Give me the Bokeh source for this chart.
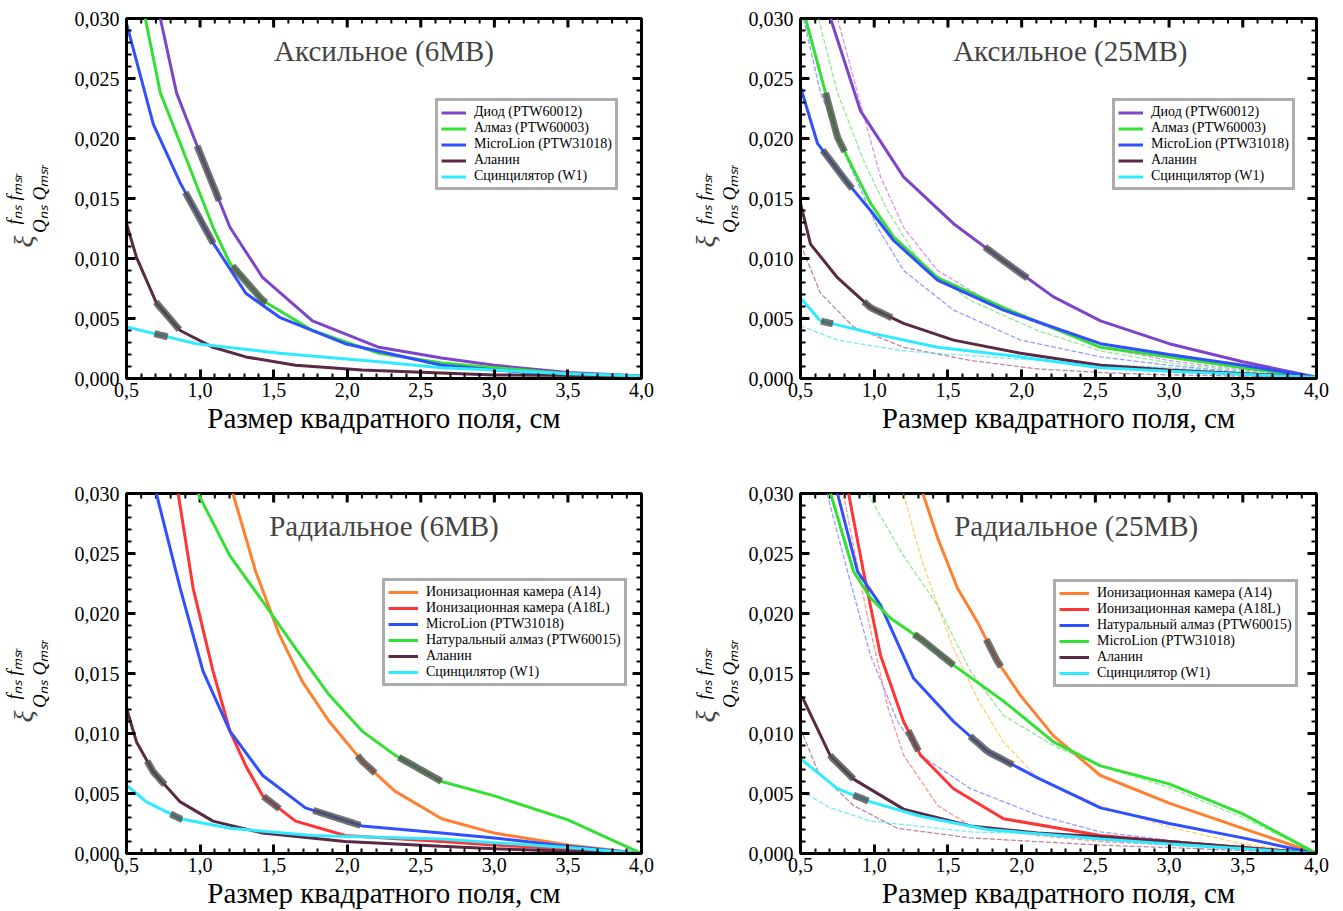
import numpy as np
from bokeh.plotting import figure
from bokeh.layouts import gridplot
from bokeh.models import (FixedTicker, CustomJSTickFormatter, Range1d,
                          Legend, LegendItem, Label, Title)
from bokeh.embed import file_html
from bokeh.resources import INLINE

# ---------------- data ----------------
x_ticks = [0.5, 1.0, 1.5, 2.0, 2.5, 3.0, 3.5, 4.0]
x_minor = [round(0.5 + 0.1 * i, 2) for i in range(36)]
y_ticks = [0.0, 0.005, 0.010, 0.015, 0.020, 0.025, 0.030]
y_minor = [round(0.001 * i, 4) for i in range(31)]
x_label = "Размер квадратного поля, см"
y_label = "fₙₛ fₘₛᵣ\nQₙₛ Qₘₛᵣ"
y_symbol = "ξ"
titles = ["Аксильное (6МВ)", "Аксильное (25МВ)", "Радиальное (6МВ)", "Радиальное (25МВ)"]

# Top-left: axial 6 MV
tl_names = ["Диод (PTW60012)", "Алмаз (PTW60003)", "MicroLion (PTW31018)", "Аланин", "Сцинцилятор (W1)"]
tl_diode_x = [0.73, 0.84, 0.973, 1.203, 1.426, 1.764, 2.216, 2.642, 3.0, 3.5, 4.0]
tl_diode_y = [0.030, 0.0238, 0.0196, 0.0126, 0.0084, 0.0048, 0.0026, 0.0017, 0.0011, 0.0005, 0.0002]
tl_diam_x = [0.628, 0.73, 0.865, 1.088, 1.203, 1.426, 1.764, 2.216, 2.642, 3.0, 3.5, 4.0]
tl_diam_y = [0.030, 0.0238, 0.0196, 0.0126, 0.0096, 0.0065, 0.0040, 0.0021, 0.0013, 0.0009, 0.0004, 0.0002]
tl_ml_x = [0.5, 0.682, 0.865, 1.088, 1.311, 1.54, 1.986, 2.642, 3.0, 3.5, 4.0]
tl_ml_y = [0.0296, 0.0212, 0.0163, 0.0113, 0.0071, 0.0051, 0.0029, 0.0011, 0.0007, 0.0003, 0.0001]
tl_ala_x = [0.5, 0.568, 0.703, 0.865, 1.088, 1.311, 1.649, 2.10, 3.0, 4.0]
tl_ala_y = [0.0129, 0.0101, 0.0063, 0.0040, 0.0026, 0.0018, 0.0011, 0.0007, 0.0003, 0.0002]
tl_sc_x = [0.5, 0.973, 1.54, 2.216, 2.642, 3.0, 3.5, 4.0]
tl_sc_y = [0.0043, 0.0029, 0.0021, 0.0014, 0.0009, 0.0007, 0.0004, 0.0002]

# Top-right: axial 25 MV (thick) and thin companions
tr_names = tl_names
tr_diode_x = [0.704, 0.907, 1.199, 1.538, 1.877, 2.216, 2.535, 3.0, 3.5, 4.0]
tr_diode_y = [0.030, 0.0223, 0.0168, 0.0129, 0.0098, 0.0068, 0.0048, 0.0029, 0.0014, 0.0001]
tr_diam_x = [0.534, 0.751, 0.975, 1.131, 1.429, 1.877, 2.535, 3.0, 3.5, 4.0]
tr_diam_y = [0.030, 0.0201, 0.0146, 0.0118, 0.0084, 0.0059, 0.0026, 0.0018, 0.0009, 0.0001]
tr_ml_x = [0.5, 0.615, 0.819, 0.975, 1.131, 1.429, 1.877, 2.535, 3.0, 3.5, 4.0]
tr_ml_y = [0.0243, 0.0196, 0.0163, 0.0140, 0.0115, 0.0082, 0.0057, 0.0029, 0.0020, 0.0011, 0.0001]
tr_ala_x = [0.5, 0.568, 0.751, 0.975, 1.199, 1.538, 1.993, 2.535, 3.0, 3.5, 4.0]
tr_ala_y = [0.0146, 0.0112, 0.0084, 0.0059, 0.0046, 0.0032, 0.0021, 0.0011, 0.0007, 0.0004, 0.0001]
tr_sc_x = [0.5, 0.636, 0.975, 1.429, 1.993, 2.535, 3.0, 4.0]
tr_sc_y = [0.0067, 0.0048, 0.0038, 0.0026, 0.0018, 0.0009, 0.0006, 0.0001]
tr_diode_thin_x = [0.751, 0.887, 1.043, 1.199, 1.429, 1.877, 2.535, 3.0, 3.5, 4.0]
tr_diode_thin_y = [0.030, 0.0238, 0.0168, 0.0126, 0.0090, 0.0057, 0.0026, 0.0015, 0.0007, 0.0002]
tr_diam_thin_x = [0.622, 0.751, 0.927, 1.09, 1.314, 1.653, 2.108, 2.535, 3.0, 3.5, 4.0]
tr_diam_thin_y = [0.030, 0.0238, 0.0182, 0.0140, 0.0096, 0.0065, 0.0040, 0.0023, 0.0013, 0.0006, 0.0001]
tr_ml_thin_x = [0.52, 0.636, 0.819, 1.022, 1.199, 1.538, 1.993, 2.535, 3.0, 3.5, 4.0]
tr_ml_thin_y = [0.030, 0.0238, 0.0182, 0.0126, 0.0090, 0.0057, 0.0032, 0.0018, 0.0011, 0.0005, 0.0001]
tr_ala_thin_x = [0.5, 0.636, 0.86, 1.199, 1.653, 2.108, 2.535, 3.0, 4.0]
tr_ala_thin_y = [0.0112, 0.0071, 0.0043, 0.0026, 0.0015, 0.0008, 0.0005, 0.0003, 0.0001]
tr_sc_thin_x = [0.5, 0.751, 1.199, 1.877, 2.535, 3.0, 3.5, 4.0]
tr_sc_thin_y = [0.0044, 0.0032, 0.0023, 0.0017, 0.0012, 0.0009, 0.0005, 0.0002]

# Bottom-left: radial 6 MV
bl_names = ["Ионизационная камера (A14)", "Ионизационная камера (A18L)", "MicroLion (PTW31018)",
            "Натуральный алмаз (PTW60015)", "Аланин", "Сцинцилятор (W1)"]
bl_a14_x = [1.223, 1.378, 1.54, 1.696, 1.878, 2.101, 2.324, 2.642, 3.0, 3.5, 4.0]
bl_a14_y = [0.030, 0.0235, 0.0182, 0.0143, 0.0110, 0.0077, 0.0052, 0.0029, 0.0017, 0.0007, 0.0]
bl_a18_x = [0.851, 0.953, 1.088, 1.203, 1.311, 1.426, 1.649, 1.986, 2.642, 3.0, 3.5, 4.0]
bl_a18_y = [0.030, 0.0221, 0.0152, 0.0102, 0.0073, 0.0048, 0.0027, 0.0015, 0.0010, 0.0007, 0.0004, 0.0]
bl_ml_x = [0.703, 0.865, 1.02, 1.203, 1.426, 1.716, 2.101, 2.642, 3.0, 3.5, 4.0]
bl_ml_y = [0.030, 0.0221, 0.0152, 0.0102, 0.0065, 0.0038, 0.0023, 0.0017, 0.0013, 0.0006, 0.0]
bl_nd_x = [0.986, 1.203, 1.426, 1.649, 1.878, 2.101, 2.324, 2.642, 3.0, 3.5, 4.0]
bl_nd_y = [0.030, 0.0248, 0.0210, 0.0171, 0.0132, 0.0102, 0.0082, 0.0060, 0.0048, 0.0028, 0.0]
bl_ala_x = [0.5, 0.568, 0.682, 0.865, 1.088, 1.426, 1.986, 2.642, 3.0, 4.0]
bl_ala_y = [0.0121, 0.0093, 0.0068, 0.0043, 0.0027, 0.0017, 0.0010, 0.0006, 0.0004, 0.0]
bl_sc_x = [0.5, 0.635, 0.865, 1.203, 1.764, 2.642, 3.0, 3.5, 4.0]
bl_sc_y = [0.0057, 0.0043, 0.0029, 0.0021, 0.0015, 0.0012, 0.0009, 0.0005, 0.0]

# Bottom-right: radial 25 MV
br_names = ["Ионизационная камера (A14)", "Ионизационная камера (A18L)", "Натуральный алмаз (PTW60015)",
            "MicroLion (PTW31018)", "Аланин", "Сцинцилятор (W1)"]
br_a14_x = [1.33, 1.43, 1.565, 1.70, 1.836, 1.99, 2.216, 2.535, 3.0, 3.5, 4.0]
br_a14_y = [0.030, 0.0263, 0.0221, 0.0193, 0.0160, 0.0132, 0.0098, 0.0065, 0.0042, 0.0021, 0.0]
br_a18_x = [0.826, 0.927, 1.043, 1.199, 1.314, 1.538, 1.877, 2.535, 3.0, 3.5, 4.0]
br_a18_y = [0.030, 0.0235, 0.0165, 0.0110, 0.0082, 0.0054, 0.0029, 0.0015, 0.0010, 0.0005, 0.0]
br_nd_x = [0.751, 0.887, 1.043, 1.267, 1.538, 1.768, 2.108, 2.535, 3.0, 3.5, 4.0]
br_nd_y = [0.030, 0.0235, 0.0207, 0.0146, 0.0110, 0.0085, 0.0063, 0.0038, 0.0025, 0.0013, 0.0]
br_ml_x = [0.704, 0.86, 0.975, 1.11, 1.314, 1.538, 1.877, 2.216, 2.535, 3.0, 3.5, 4.0]
br_ml_y = [0.030, 0.0235, 0.0213, 0.0196, 0.0179, 0.0157, 0.0127, 0.0093, 0.0073, 0.0058, 0.0033, 0.0]
br_ala_x = [0.51, 0.704, 0.86, 1.199, 1.653, 2.108, 2.535, 3.0, 3.5, 4.0]
br_ala_y = [0.0131, 0.0081, 0.0062, 0.0037, 0.0023, 0.0017, 0.0014, 0.0010, 0.0005, 0.0]
br_sc_x = [0.5, 0.751, 0.975, 1.314, 1.768, 2.535, 3.0, 4.0]
br_sc_y = [0.0079, 0.0054, 0.0043, 0.0031, 0.0020, 0.0012, 0.0008, 0.0]
br_a14_thin_x = [1.199, 1.314, 1.429, 1.538, 1.70, 1.877, 2.108, 2.535, 3.0, 3.5, 4.0]
br_a14_thin_y = [0.030, 0.0248, 0.0207, 0.0171, 0.0129, 0.0093, 0.0063, 0.0040, 0.0022, 0.0008, 0.0]
br_a18_thin_x = [0.79, 0.95, 1.09, 1.199, 1.43, 1.653, 2.108, 2.535, 3.0, 4.0]
br_a18_thin_y = [0.030, 0.020, 0.0123, 0.0082, 0.0040, 0.0023, 0.0015, 0.0010, 0.0007, 0.0]
br_nd_thin_x = [0.68, 0.819, 0.975, 1.158, 1.314, 1.653, 2.108, 2.535, 3.0, 3.5, 4.0]
br_nd_thin_y = [0.030, 0.0235, 0.0165, 0.0110, 0.0082, 0.0054, 0.0032, 0.0018, 0.0011, 0.0005, 0.0]
br_ml_thin_x = [0.955, 1.199, 1.429, 1.653, 1.877, 2.216, 2.535, 3.0, 3.5, 4.0]
br_ml_thin_y = [0.030, 0.0248, 0.0207, 0.0152, 0.0115, 0.0090, 0.0073, 0.0055, 0.0030, 0.0]
br_ala_thin_x = [0.5, 0.62, 0.86, 1.158, 1.653, 2.535, 3.0, 4.0]
br_ala_thin_y = [0.0104, 0.0068, 0.0040, 0.0021, 0.0013, 0.0007, 0.0005, 0.0]
br_sc_thin_x = [0.5, 0.704, 0.975, 1.653, 2.535, 3.0, 4.0]
br_sc_thin_y = [0.0052, 0.0038, 0.0027, 0.0018, 0.0015, 0.0010, 0.0]

# x-ranges of the (illegible) grey curve labels drawn over each thick curve
tl_tags = [(0.98, 1.13), (1.22, 1.45), (0.90, 1.09), (0.70, 0.86), (0.69, 0.78)]
tr_tags = [(1.75, 2.04), (0.67, 0.80), (0.65, 0.85), (0.93, 1.12), (0.64, 0.72)]
bl_tags = [(2.07, 2.19), (1.43, 1.54), (1.77, 2.09), (2.35, 2.64), (0.64, 0.76), (0.80, 0.88)]
br_tags = [(1.76, 1.86), (1.23, 1.30), (1.65, 1.94), (1.27, 1.54), (0.70, 0.86), (0.86, 0.96)]

# ---------------- style ----------------
C_PURPLE, C_GREEN, C_BLUE, C_MAROON, C_CYAN = "#7d45c8", "#33e033", "#3050ff", "#5a2a45", "#30eaff"
C_ORANGE, C_RED = "#ff8030", "#ff3535"
T_PURPLE, T_GREEN, T_BLUE, T_MAROON, T_CYAN = "#d070e0", "#70e070", "#7080ff", "#a06080", "#50e0f0"
T_ORANGE, T_RED = "#ffc040", "#ff7070"
SERIF = "Liberation Serif"
X0, X1, Y0, Y1 = 0.5, 4.0, 0.0, 0.030


def fmt(n):
    return CustomJSTickFormatter(code="return tick.toFixed(%d).replace('.', ',');" % n)


def make_panel(width, height, bl, br, bt, bb, title, title_x, thick, thin, tags,
               legend_xy, legend_fs, legend_lh, legend_gw, ylab_standoff, xi_standoff):
    fw = width - bl - br
    fh = height - bt - bb
    p = figure(width=width, height=height, x_range=Range1d(X0, X1), y_range=Range1d(Y0, Y1),
               output_backend="svg", toolbar_location=None,
               min_border_left=bl, min_border_right=br, min_border_top=bt, min_border_bottom=bb,
               x_axis_label=x_label, y_axis_label=y_label)
    p.grid.visible = False
    p.outline_line_color = "black"
    p.outline_line_width = 3
    p.background_fill_color = "white"
    p.border_fill_color = "white"
    p.xaxis.ticker = FixedTicker(ticks=x_ticks, minor_ticks=x_minor)
    p.xaxis.formatter = fmt(1)
    p.yaxis.ticker = FixedTicker(ticks=y_ticks, minor_ticks=y_minor)
    p.yaxis.formatter = fmt(3)
    for ax in p.axis:
        ax.axis_line_width = 3
        ax.major_tick_in = 9
        ax.major_tick_out = 0
        ax.minor_tick_in = 5
        ax.minor_tick_out = 0
        ax.major_tick_line_width = 3
        ax.minor_tick_line_width = 2
        ax.major_label_text_font = SERIF
        ax.major_label_text_font_size = "20px"
        ax.major_label_text_color = "black"
        ax.axis_label_text_font = SERIF
        ax.axis_label_text_color = "black"
    p.xaxis.axis_label_text_font_size = "29px"
    p.xaxis.axis_label_text_font_style = "normal"
    p.xaxis.axis_label_standoff = 2
    p.xaxis.major_label_standoff = 4
    p.yaxis.axis_label_text_font_size = "19px"
    p.yaxis.axis_label_text_font_style = "italic"
    p.yaxis.axis_label_standoff = ylab_standoff
    p.yaxis.major_label_standoff = 7
    p.add_layout(Title(text=y_symbol, text_font=SERIF, text_font_style="italic",
                       text_font_size="28px", align="left", offset=131,
                       standoff=xi_standoff, vertical_align="bottom"), "left")

    # ticks on the top and right frame edges
    tk = dict(line_color="black")
    p.segment(x_ticks, [Y1] * len(x_ticks), x_ticks, [Y1 - 9 * (Y1 - Y0) / fh] * len(x_ticks),
              line_width=3, **tk)
    p.segment(x_minor, [Y1] * len(x_minor), x_minor, [Y1 - 5 * (Y1 - Y0) / fh] * len(x_minor),
              line_width=2, **tk)
    p.segment([X1] * len(y_ticks), y_ticks, [X1 - 9 * (X1 - X0) / fw] * len(y_ticks), y_ticks,
              line_width=3, **tk)
    p.segment([X1] * len(y_minor), y_minor, [X1 - 5 * (X1 - X0) / fw] * len(y_minor), y_minor,
              line_width=2, **tk)

    for (x, y, c) in thin:
        p.line(x, y, line_color=c, line_width=1.3, line_alpha=0.75, line_dash="5 2")
    items = []
    for (x, y, c, name) in thick:
        r = p.line(x, y, line_color=c, line_width=3)
        items.append(LegendItem(label=name, renderers=[r]))
    for (x, y, c, name), (t0, t1) in zip(thick, tags):
        tx = np.linspace(t0, t1, 12)
        ty = np.interp(tx, x, y)
        p.line(tx, ty, line_color="#505050", line_width=7, line_alpha=0.8)

    leg = Legend(items=items, location=legend_xy, border_line_color="#5a5a5a", border_line_width=3,
                 background_fill_color="white", background_fill_alpha=1.0,
                 label_text_font=SERIF, label_text_font_size=legend_fs, label_text_color="black",
                 glyph_width=legend_gw, glyph_height=legend_lh, label_height=legend_lh,
                 spacing=0, padding=3, margin=0, label_standoff=8)
    p.add_layout(leg)

    p.add_layout(Label(x=title_x, y=0.0273, text=title, text_font=SERIF, text_font_size="29px",
                       text_align="center", text_baseline="middle"))
    return p


p1 = make_panel(671, 455, 123, 30, 18, 77, titles[0], 2.25,
                [(tl_diode_x, tl_diode_y, C_PURPLE, tl_names[0]),
                 (tl_diam_x, tl_diam_y, C_GREEN, tl_names[1]),
                 (tl_ml_x, tl_ml_y, C_BLUE, tl_names[2]),
                 (tl_ala_x, tl_ala_y, C_MAROON, tl_names[3]),
                 (tl_sc_x, tl_sc_y, C_CYAN, tl_names[4])],
                [], tl_tags, (309, 188), "14px", 15, 25, 22, -76)

p2 = make_panel(672, 455, 129, 27, 18, 77, titles[1], 2.33,
                [(tr_diode_x, tr_diode_y, C_PURPLE, tr_names[0]),
                 (tr_diam_x, tr_diam_y, C_GREEN, tr_names[1]),
                 (tr_ml_x, tr_ml_y, C_BLUE, tr_names[2]),
                 (tr_ala_x, tr_ala_y, C_MAROON, tr_names[3]),
                 (tr_sc_x, tr_sc_y, C_CYAN, tr_names[4])],
                [(tr_diode_thin_x, tr_diode_thin_y, T_PURPLE),
                 (tr_diam_thin_x, tr_diam_thin_y, T_GREEN),
                 (tr_ml_thin_x, tr_ml_thin_y, T_BLUE),
                 (tr_ala_thin_x, tr_ala_thin_y, T_MAROON),
                 (tr_sc_thin_x, tr_sc_thin_y, T_CYAN)],
                tr_tags, (312, 188), "14px", 15, 25, 6, -60)

p3 = make_panel(671, 456, 123, 30, 38, 57, titles[2], 2.25,
                [(bl_a14_x, bl_a14_y, C_ORANGE, bl_names[0]),
                 (bl_a18_x, bl_a18_y, C_RED, bl_names[1]),
                 (bl_ml_x, bl_ml_y, C_BLUE, bl_names[2]),
                 (bl_nd_x, bl_nd_y, C_GREEN, bl_names[3]),
                 (bl_ala_x, bl_ala_y, C_MAROON, bl_names[4]),
                 (bl_sc_x, bl_sc_y, C_CYAN, bl_names[5])],
                [], bl_tags, (256, 167), "14px", 16, 30, 22, -76)

p4 = make_panel(672, 456, 129, 27, 38, 57, titles[3], 2.37,
                [(br_a14_x, br_a14_y, C_ORANGE, br_names[0]),
                 (br_a18_x, br_a18_y, C_RED, br_names[1]),
                 (br_nd_x, br_nd_y, C_BLUE, br_names[2]),
                 (br_ml_x, br_ml_y, C_GREEN, br_names[3]),
                 (br_ala_x, br_ala_y, C_MAROON, br_names[4]),
                 (br_sc_x, br_sc_y, C_CYAN, br_names[5])],
                [(br_a14_thin_x, br_a14_thin_y, T_ORANGE),
                 (br_a18_thin_x, br_a18_thin_y, T_RED),
                 (br_nd_thin_x, br_nd_thin_y, T_BLUE),
                 (br_ml_thin_x, br_ml_thin_y, T_GREEN),
                 (br_ala_thin_x, br_ala_thin_y, T_MAROON),
                 (br_sc_thin_x, br_sc_thin_y, T_CYAN)],
                br_tags, (253, 166), "14px", 16, 30, 6, -60)

grid = gridplot([[p1, p2], [p3, p4]], toolbar_location=None)
open("out.html", "w").write(file_html(grid, INLINE))
